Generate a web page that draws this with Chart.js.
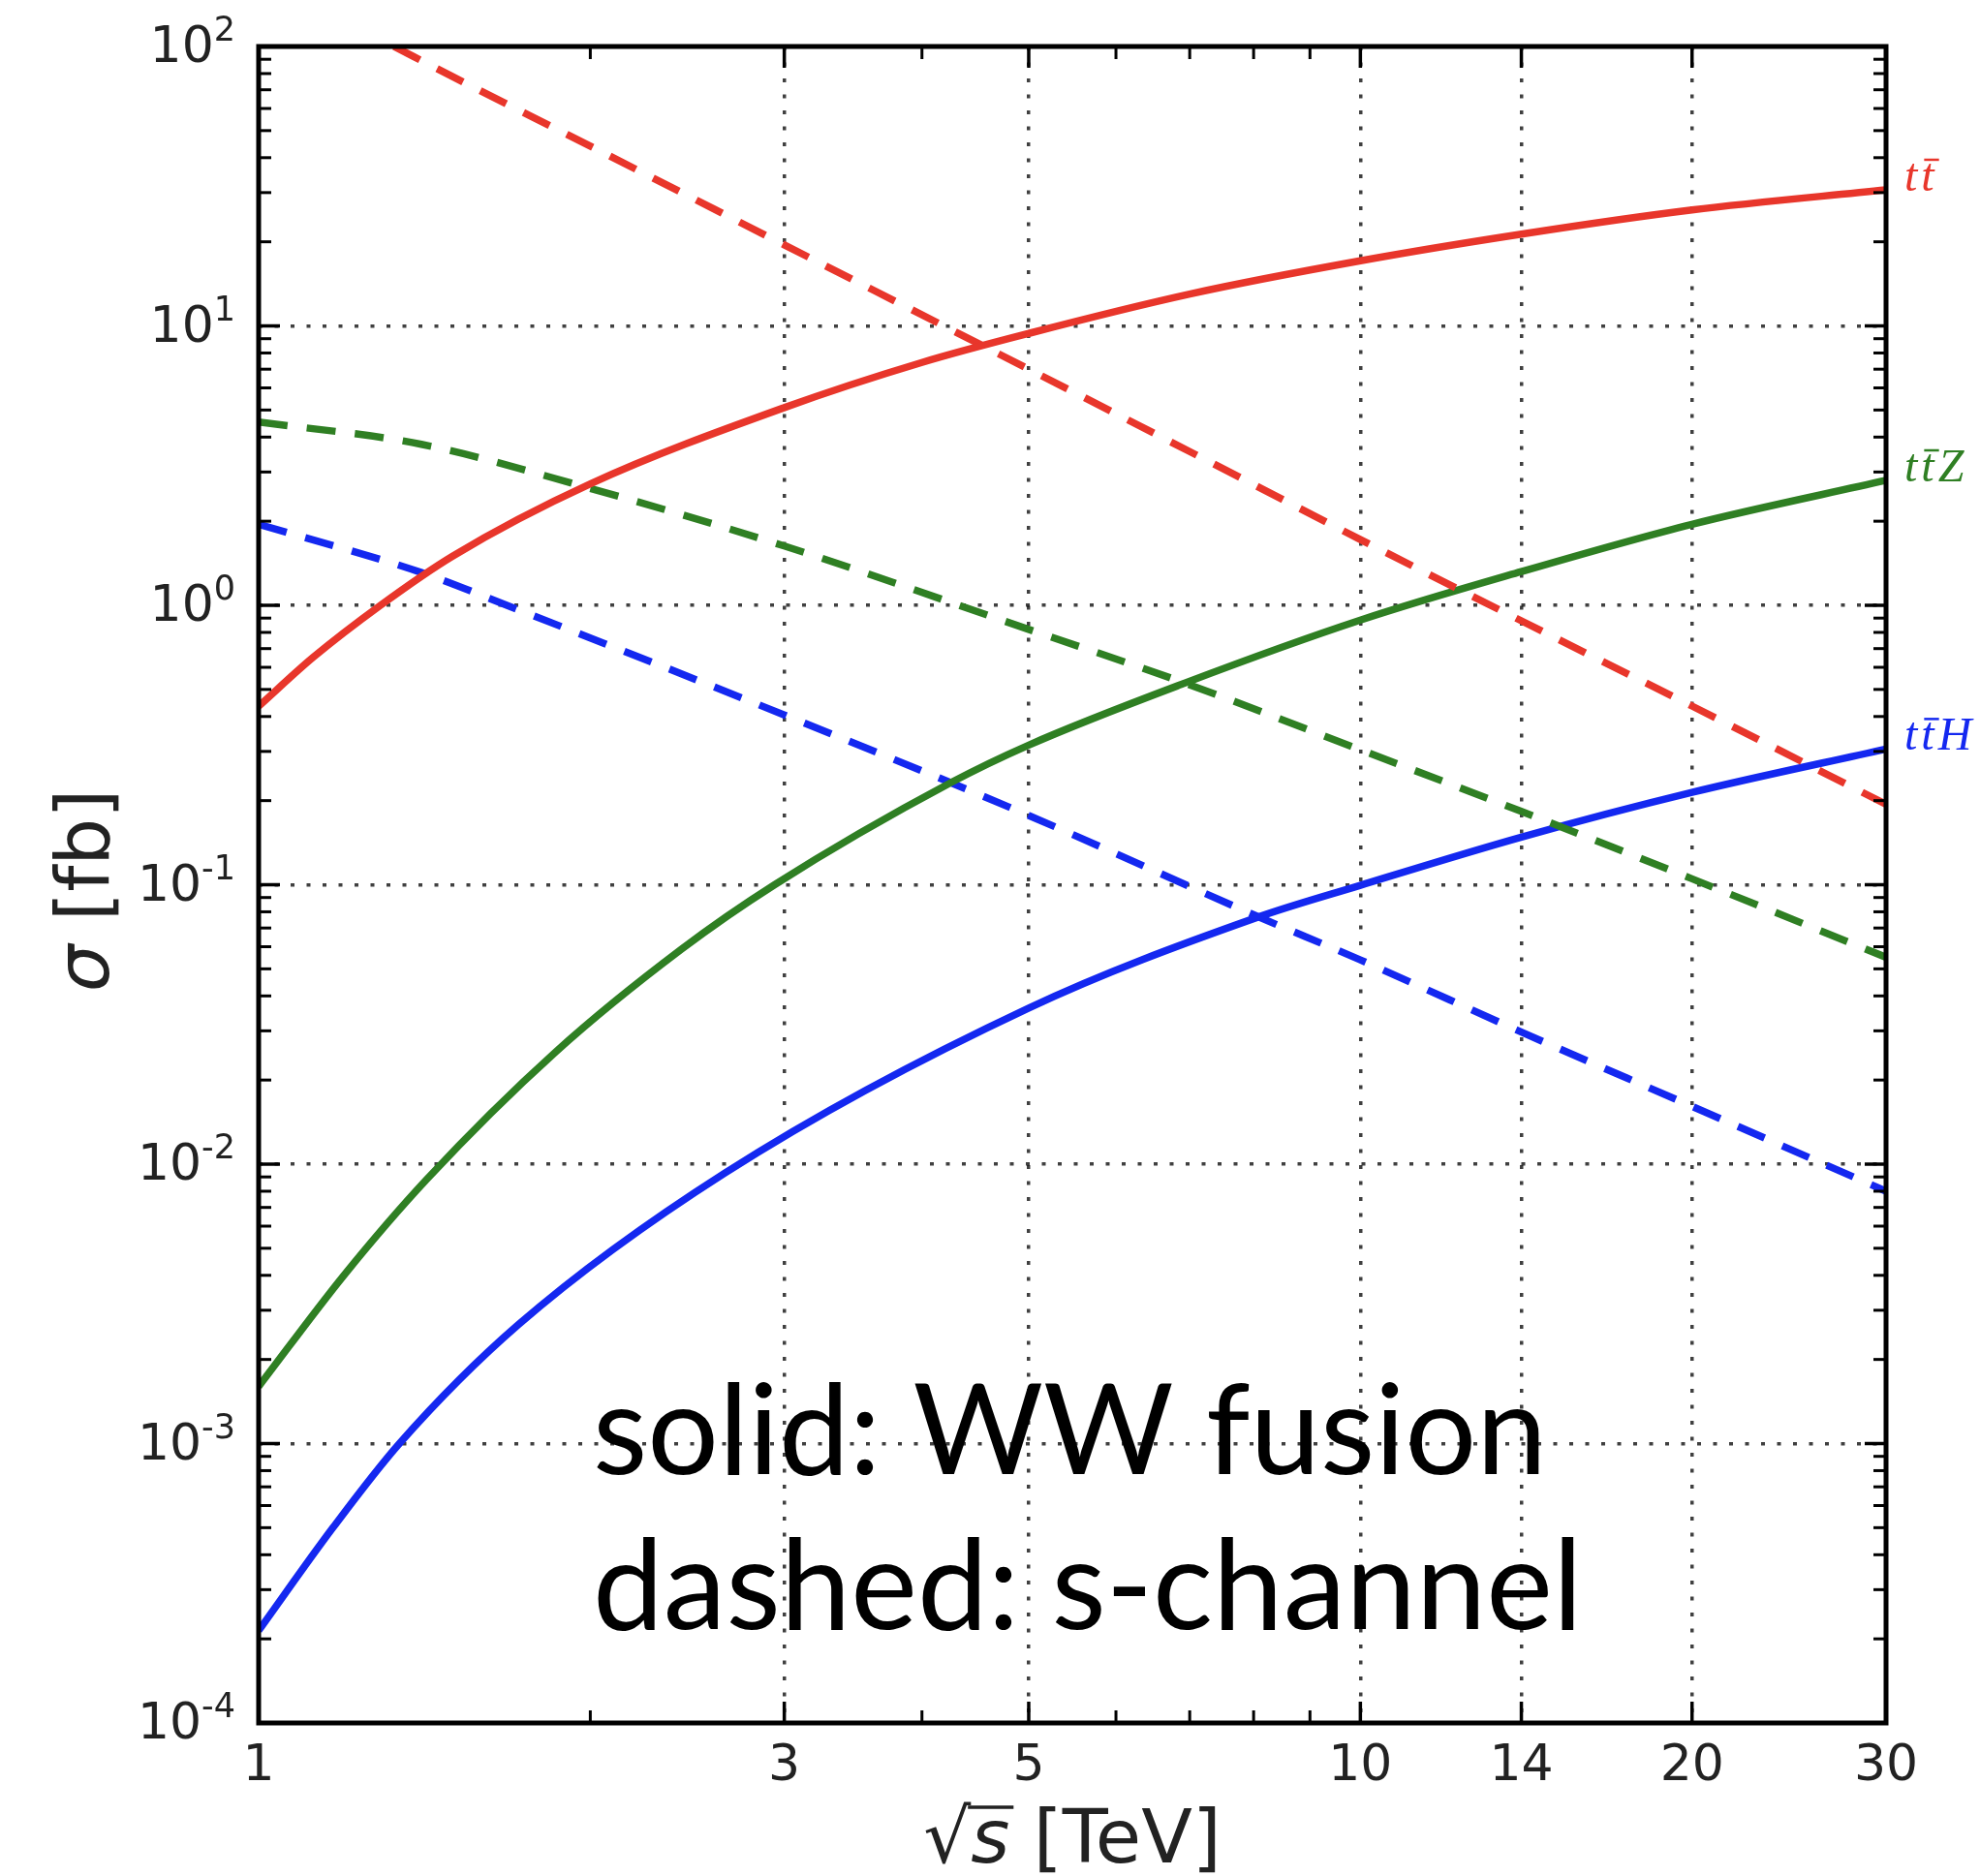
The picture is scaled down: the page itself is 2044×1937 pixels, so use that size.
<!DOCTYPE html>
<html lang="en">
<head>
<meta charset="UTF-8">
<title>ttbar production cross sections</title>
<script src="https://cdn.jsdelivr.net/npm/chart.js"></script>
<style>
    html, body { margin: 0; padding: 0; background: #fff; }
    #wrap { width: 2044px; height: 1937px; }
</style>
</head>
<body>
<div id="wrap"><canvas id="xsec" width="2044" height="1937"></canvas></div>
<script>
// [sqrt(s) in TeV, sigma in fb]
const ttFusion = [[1, 0.435], [1.12, 0.65], [1.29, 1.0], [1.5, 1.5], [2, 2.72], [3, 5.1],
    [4, 7.4], [5, 9.4], [7, 13], [10, 17.1], [14, 21.3], [20, 26], [30, 30.7]];
const ttSchannel = [[1.327, 100], [1.5, 78], [2, 44], [3, 19.5], [5, 7.0], [7, 3.55], [10, 1.72], [14, 0.88],
    [20, 0.436], [30, 0.194]];
const ttZFusion = [[1, 0.0016], [1.195, 0.0040], [1.42, 0.0088], [1.86, 0.0252], [2.42, 0.0588], [2.94, 0.1],
    [4.25, 0.232], [5, 0.316], [6.93, 0.527], [10, 0.885], [14, 1.32], [20, 1.95], [30, 2.8]];
const ttZSchannel = [[1, 4.53], [1.405, 3.77], [1.98, 2.65], [3, 1.63], [5, 0.82], [6.93, 0.527],
    [10, 0.304], [14, 0.183], [20, 0.105], [30, 0.055]];
const ttHFusion = [[1, 0.000214], [1.168, 0.0005], [1.342, 0.001], [1.72, 0.00266], [2.65, 0.0093],
    [5, 0.0362], [8.03, 0.076], [10, 0.0995], [14, 0.148], [20, 0.214], [30, 0.306]];
const ttHSchannel = [[1, 1.95], [1.405, 1.31], [1.68, 1.0], [3, 0.405], [5, 0.177], [8.03, 0.0776],
    [10, 0.0538], [14, 0.0297], [20, 0.0161], [30, 0.008]];

const xMajorTicks = [1, 3, 5, 10, 14, 20, 30];
const xMinorTicks = [2, 4, 6, 7, 8, 9];
const yExponents = [-4, -3, -2, -1, 0, 1, 2];

const RED = '#e8362b';
const GREEN = '#2f7f23';
const BLUE = '#1428f0';

const curveLabels = [
    { tail: '', data: ttFusion, color: RED },
    { tail: 'Z', data: ttZFusion, color: GREEN },
    { tail: 'H', data: ttHFusion, color: BLUE }
];

function series(points, color, dashed) {
    return {
        data: points.map(([x, y]) => ({ x, y })),
        borderColor: color,
        borderWidth: 7.5,
        borderDash: dashed ? [30, 20] : [],
        pointRadius: 0,
        cubicInterpolationMode: 'monotone',
        fill: false
    };
}

const decorations = {
    id: 'decorations',
    afterDatasetsDraw(chart) {
        const ctx = chart.ctx;
        const { left, right, top, bottom } = chart.chartArea;
        const xs = chart.scales.x, ys = chart.scales.y;
        ctx.save();

        // inward tick marks on all four sides
        const seg = (x1, y1, x2, y2, w) => {
            ctx.lineWidth = w;
            ctx.beginPath(); ctx.moveTo(x1, y1); ctx.lineTo(x2, y2); ctx.stroke();
        };
        ctx.strokeStyle = '#000';
        xMajorTicks.forEach(v => {
            const px = xs.getPixelForValue(v);
            seg(px, bottom, px, bottom - 22, 3.5);
            seg(px, top, px, top + 22, 3.5);
        });
        xMinorTicks.forEach(v => {
            const px = xs.getPixelForValue(v);
            seg(px, bottom, px, bottom - 13, 3);
            seg(px, top, px, top + 13, 3);
        });
        yExponents.forEach(e => {
            const py = ys.getPixelForValue(Math.pow(10, e));
            seg(left, py, left + 22, py, 3.5);
            seg(right, py, right - 22, py, 3.5);
            if (e === 2) return;
            for (let k = 2; k <= 9; k++) {
                const pm = ys.getPixelForValue(k * Math.pow(10, e));
                seg(left, pm, left + 13, pm, 3);
                seg(right, pm, right - 13, pm, 3);
            }
        });

        // frame
        ctx.lineWidth = 5;
        ctx.strokeRect(left, top, right - left, bottom - top);

        // tick labels
        ctx.fillStyle = '#222';
        ctx.textBaseline = 'alphabetic';
        yExponents.forEach(e => {
            const py = ys.getPixelForValue(Math.pow(10, e));
            const sup = String(e);
            ctx.font = '35px "DejaVu Sans"';
            const ws = ctx.measureText(sup).width;
            ctx.font = '52px "DejaVu Sans"';
            const wb = ctx.measureText('10').width;
            const xr = left - 24;
            ctx.textAlign = 'left';
            ctx.fillText('10', xr - ws - wb, py + 16);
            ctx.font = '35px "DejaVu Sans"';
            ctx.fillText(sup, xr - ws, py - 6);
        });
        ctx.font = '52px "DejaVu Sans"';
        ctx.textAlign = 'center';
        xMajorTicks.forEach(v => {
            ctx.fillText(String(v), xs.getPixelForValue(v), bottom + 59);
        });

        // axis titles
        const S = 77;
        const cx = (left + right) / 2;
        ctx.textAlign = 'left';
        ctx.font = S + 'px "DejaVu Sans"';
        const wRoot = ctx.measureText('\u221A').width;
        const wRest = ctx.measureText(' [TeV]').width;
        ctx.font = 'italic ' + S + 'px "DejaVu Sans"';
        const wS = ctx.measureText('s').width;
        const x0 = cx - (wRoot + wS + wRest) / 2;
        const by = bottom + 144;
        ctx.font = S + 'px "DejaVu Sans"';
        ctx.fillText('\u221A', x0, by);
        ctx.font = 'italic ' + S + 'px "DejaVu Sans"';
        ctx.fillText('s', x0 + wRoot, by);
        ctx.font = S + 'px "DejaVu Sans"';
        ctx.fillText(' [TeV]', x0 + wRoot + wS, by);
        ctx.strokeStyle = '#222';
        seg(x0 + wRoot - 3, by - 0.74 * S, x0 + wRoot + wS + 4, by - 0.74 * S, 3.5);

        ctx.save();
        ctx.translate(112, (top + bottom) / 2 + 6);
        ctx.rotate(-Math.PI / 2);
        ctx.font = 'italic ' + S + 'px "DejaVu Sans"';
        const wSig = ctx.measureText('\u03C3').width;
        ctx.font = S + 'px "DejaVu Sans"';
        const wFb = ctx.measureText(' [fb]').width;
        const y0 = -(wSig + wFb) / 2;
        ctx.font = 'italic ' + S + 'px "DejaVu Sans"';
        ctx.fillText('\u03C3', y0, 0);
        ctx.font = S + 'px "DejaVu Sans"';
        ctx.fillText(' [fb]', y0 + wSig, 0);
        ctx.restore();

        // curve labels at the right edge
        ctx.font = 'italic 48px "Liberation Serif"';
        curveLabels.forEach(lab => {
            const last = lab.data[lab.data.length - 1];
            const ly = ys.getPixelForValue(last[1]) + 1;
            let lx = right + 19;
            ctx.fillStyle = lab.color;
            ctx.strokeStyle = lab.color;
            ctx.fillText('t', lx, ly);
            lx += ctx.measureText('t').width + 4;
            ctx.fillText('t', lx, ly);
            const wt = ctx.measureText('t').width;
            seg(lx + 3, ly - 32, lx + wt + 5, ly - 32, 2.5);
            lx += wt + 4;
            if (lab.tail) ctx.fillText(lab.tail, lx, ly);
        });

        // annotation
        const line1 = 'solid: WW fusion', line2 = 'dashed: s-channel';
        ctx.font = '100px Lato';
        const m1 = ctx.measureText(line1).width, m2 = ctx.measureText(line2).width;
        const fs = 100 * (985 + 1021) / (m1 + m2);
        ctx.font = fs.toFixed(1) + 'px Lato';
        ctx.fillStyle = '#000';
        ctx.fillText(line1, left + 345, top + 1474);
        ctx.fillText(line2, left + 345, top + 1634);

        ctx.restore();
    }
};

new Chart(document.getElementById('xsec'), {
    type: 'line',
    data: {
        datasets: [
            series(ttFusion, RED, false),
            series(ttSchannel, RED, true),
            series(ttZFusion, GREEN, false),
            series(ttZSchannel, GREEN, true),
            series(ttHFusion, BLUE, false),
            series(ttHSchannel, BLUE, true)
        ]
    },
    options: {
        responsive: false,
        devicePixelRatio: 1,
        animation: false,
        events: [],
        layout: { padding: { left: 267, right: 97, top: 48, bottom: 158 } },
        plugins: { legend: { display: false }, tooltip: { enabled: false } },
        scales: {
            x: {
                type: 'logarithmic',
                min: 1,
                max: 30,
                afterBuildTicks: scale => { scale.ticks = xMajorTicks.map(v => ({ value: v })); },
                ticks: { display: false },
                grid: { drawTicks: false, color: 'rgba(0,0,0,0.75)', lineWidth: 3.5 },
                border: { display: false, dash: [4, 12.5] }
            },
            y: {
                type: 'logarithmic',
                min: 1e-4,
                max: 1e2,
                afterBuildTicks: scale => { scale.ticks = yExponents.map(e => ({ value: Math.pow(10, e) })); },
                ticks: { display: false },
                grid: { drawTicks: false, color: 'rgba(0,0,0,0.75)', lineWidth: 3.5 },
                border: { display: false, dash: [4, 12.5] }
            }
        }
    },
    plugins: [decorations]
});
</script>
</body>
</html>
